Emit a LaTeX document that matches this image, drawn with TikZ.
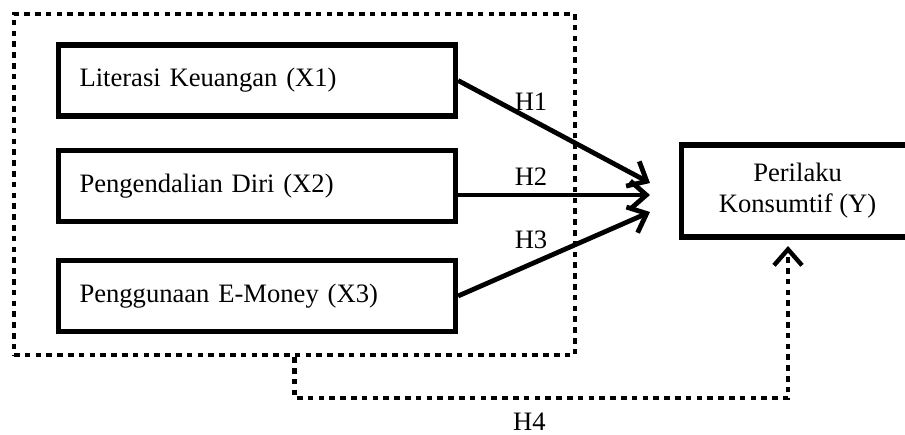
\documentclass[tikz,border=0pt]{standalone}
\usepackage{fontspec}
\setmainfont{Liberation Serif}
\usetikzlibrary{arrows.meta}

\tikzset{
  lbl/.style={font=\fontsize{13.3}{15.5}\selectfont},
  varbox/.style={lbl, draw, line width=2.6pt, minimum width=198.5pt, minimum height=35.5pt,
    text width=177.5pt, inner xsep=10.5pt, align=left},
  depbox/.style={lbl, draw, line width=2.6pt, minimum height=46pt, inner xsep=0pt},
  dotline/.style={line width=2.2pt, dash pattern=on 2.8pt off 2.6pt},
  hyp/.style={-{Straight Barb[length=8pt,width=14pt]}, line width=2.4pt},
}

\begin{document}
\begin{tikzpicture}[x=0.5pt,y=-0.5pt]
  \useasboundingbox (0,0) rectangle (905,434);

  \node[draw, dotline, minimum width=280.5pt, minimum height=170.5pt] (grp) at (294.5,184.5) {};
  \node[varbox] (x1) at (257,80.5) {Literasi Keuangan (X1)};
  \node[varbox] (x2) at (257,186) {Pengendalian Diri (X2)};
  \node[varbox] (x3) at (257,296) {Penggunaan E-Money (X3)};
  % box runs past the right edge of the page
  \node[depbox, anchor=west] (y) at (679,191) {\parbox{116pt}{\centering Perilaku\\Konsumtif (Y)}\hspace*{20pt}};

  \coordinate (in1) at (650,183);
  \coordinate (in2) at (650,195);
  \coordinate (in3) at (650,212);
  \coordinate (h4end) at (788,246);

  \path[hyp]
    (x1.east) edge node [lbl, above, pos=0.38] {H1} (in1)
    ([yshift=-4.5pt]x2.east) edge node [lbl, above, pos=0.38] {H2} (in2)
    (x3.east) edge node [lbl, above=3pt, pos=0.38] {H3} (in3);
  \draw[hyp, dotline] (grp.south) -- (grp.south |- 0,398) -| node [lbl, below=3pt, pos=0.238] {H4} (h4end);
\end{tikzpicture}
\end{document}
